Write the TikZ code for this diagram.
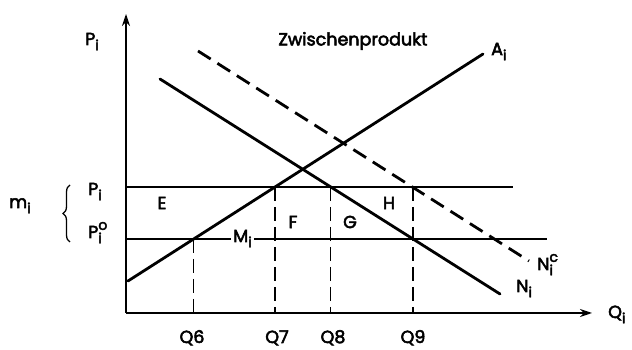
\documentclass[tikz,border=0pt]{standalone}
\usepackage{fontspec}
\setmainfont{Poppins}[UprightFeatures={FakeBold=3}]
\usetikzlibrary{decorations.pathreplacing,arrows.meta,calc}
\newcommand\lsb[1]{\raisebox{-0.55ex}{\fontsize{14}{14}\selectfont #1}}
\newcommand\lsp[1]{\raisebox{0.85ex}{\fontsize{14}{14}\selectfont #1}}
\newcommand\lsbp[2]{\rlap{\lsb{#1}}\lsp{#2}}
\begin{document}
\begin{tikzpicture}[x=1pt,y=1pt,
  lbl/.style={font=\fontsize{17.5}{17.5}\selectfont, inner sep=0pt},
  curve/.style={line width=2.8pt, line cap=round},
  thin/.style={line width=1.2pt},
  dashv/.style={line width=1.3pt, dash pattern=on 14pt off 6pt},
  curvedash/.style={line width=2.8pt, dash pattern=on 15pt off 8pt}]
\useasboundingbox (0,0) rectangle (632,350);
% axes
\coordinate (O) at (126,37);
\coordinate (ytop) at (126,336);
\coordinate (xend) at (592,37);
\draw[line width=1.4pt,-{Stealth[length=12pt,width=8pt]}] (O) -- (ytop);
\draw[line width=1.4pt,-{Stealth[length=12pt,width=8pt]}] (O) -- (xend);
% horizontal price lines
\coordinate (u1) at (126,163); \coordinate (u2) at (513,163);
\coordinate (l1) at (126,111); \coordinate (l2) at (547,111);
\draw[thin] (u1) -- (u2);
\draw[thin] (l1) -- (l2);
% curves
\coordinate (a1) at (128,69); \coordinate (a2) at (483,296);
\coordinate (n1) at (160,271); \coordinate (n2) at (500,56);
\coordinate (c1) at (198,299); \coordinate (c2) at (529,89);
\draw[curve] (a1) -- (a2);
\draw[curve] (n1) -- (n2);
\draw[curvedash] (c1) -- (c2);
% vertical dashed lines
\coordinate (q6t) at (intersection of a1--a2 and l1--l2);
\coordinate (q7t) at (intersection of a1--a2 and u1--u2);
\coordinate (q8t) at (intersection of n1--n2 and u1--u2);
\coordinate (q9t) at (intersection of n1--n2 and l1--l2);
\coordinate (q6b) at (q6t |- O);
\coordinate (q7b) at (q7t |- O);
\coordinate (q8b) at (q8t |- O);
\coordinate (q9b) at (q9t |- O);
\coordinate (q9u) at (q9t |- u1);
\draw[dashv] (q6t) -- (q6b);
\draw[dashv] (q7t) -- (q7b);
\draw[dashv] (q8t) -- (q8b);
\draw[dashv] (q9u) -- (q9b);
% labels
\node[lbl, anchor=base west] (py) at (85,305) {P\lsb{i}};
\node[lbl] (title) at (353,309) {Zwischenprodukt};
\node[lbl, anchor=base west] (A) at (491,295) {A\lsb{i}};
\node[lbl, anchor=base west] (N) at (516,58) {N\lsb{i}};
\node[lbl, anchor=base west] (Nc) at (537,80) {N\lsbp{i}{c}};
\node[lbl, anchor=base west] (Q) at (608,32) {Q\lsb{i}};
\node[lbl, anchor=base] (Q6) at (192,7) {Q6};
\node[lbl, anchor=base] (Q7) at (277,7) {Q7};
\node[lbl, anchor=base] (Q8) at (333,7) {Q8};
\node[lbl, anchor=base] (Q9) at (413,7) {Q9};
\node[lbl] (E) at (162,147) {E};
\node[lbl] (F) at (293,128) {F};
\node[lbl] (G) at (350,128) {G};
\node[lbl] (H) at (389,147) {H};
\node[lbl, anchor=base west, fill=white, inner xsep=2pt, inner ysep=1pt] (M) at (231,108) {M\lsb{i}};
\node[lbl, anchor=base west] (P1) at (88,155) {P\lsb{i}};
\node[lbl, anchor=base west] (P2) at (88,112) {P\lsbp{i}{o}};
\node[lbl, anchor=base west] (m) at (9,142) {m\lsb{i}};
\coordinate (b1) at (70,108); \coordinate (b2) at (70,165);
\draw[line width=1.3pt, decorate, decoration={brace, amplitude=7pt}] (b1) -- (b2);
\end{tikzpicture}
\end{document}
